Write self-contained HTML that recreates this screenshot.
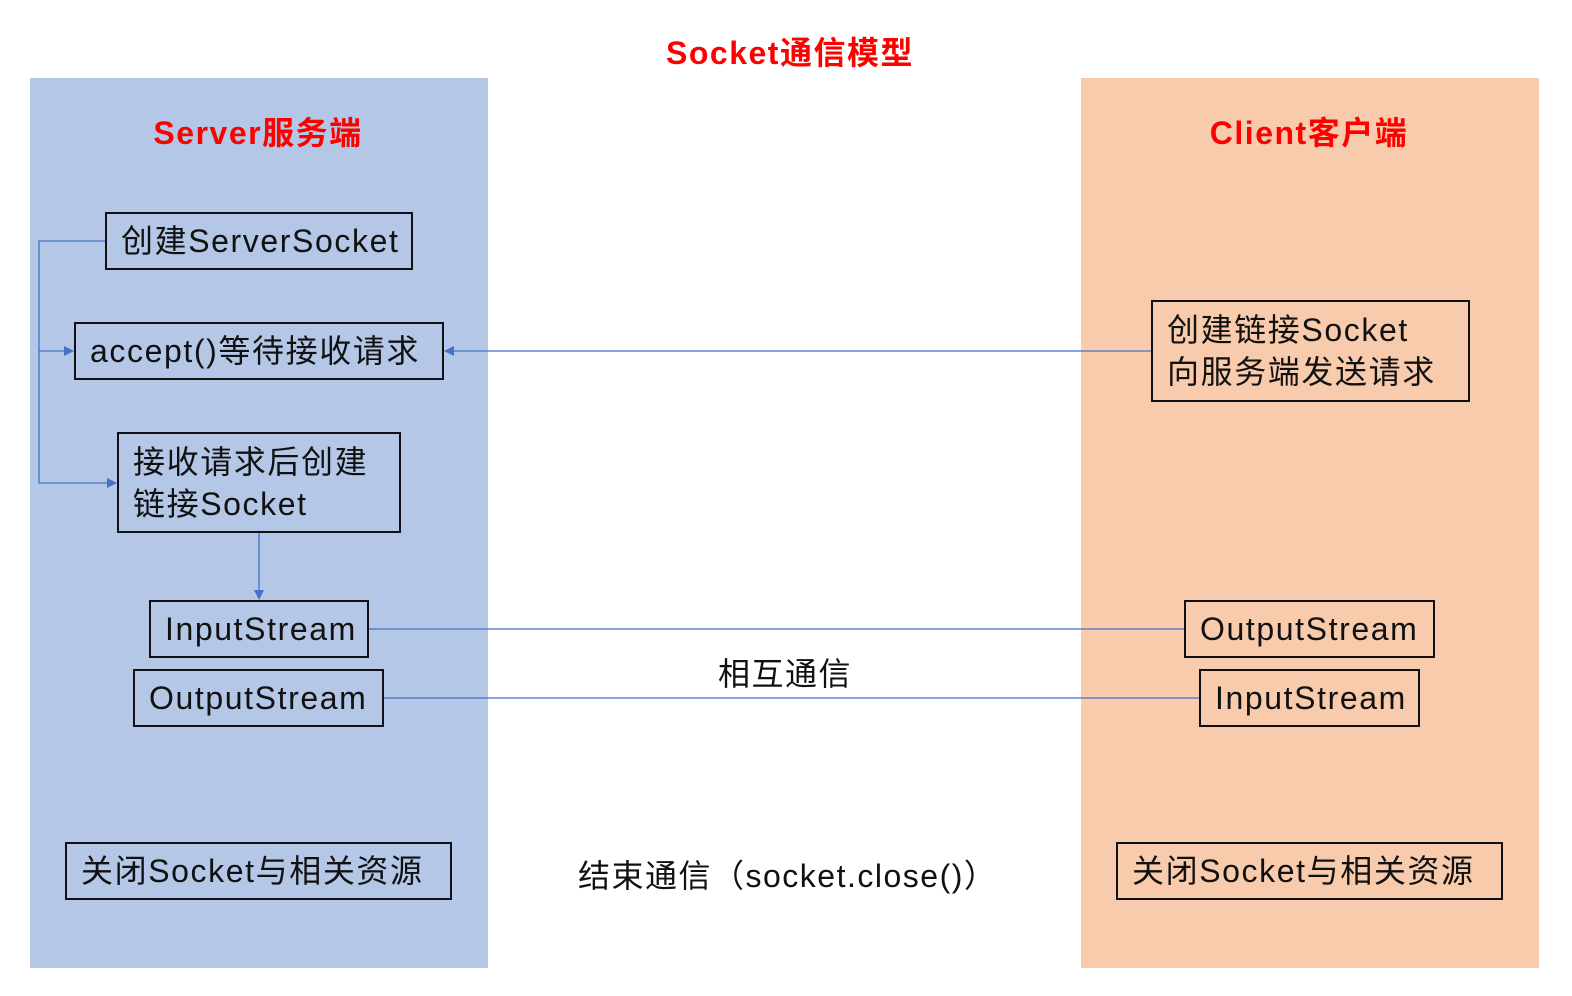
<!DOCTYPE html>
<html><head><meta charset="utf-8"><style>
body{margin:0;width:1572px;height:996px;background:#fff;position:relative;overflow:hidden;font-family:"Liberation Sans","Noto Sans CJK SC",sans-serif;}
.p{position:absolute;top:78px;height:890px;width:458px}
.b{position:absolute;box-sizing:border-box;border:2px solid #111;font-size:32px;color:#111;padding-left:14px;display:flex;align-items:center;white-space:nowrap;line-height:42px;letter-spacing:1.6px}
.t{position:absolute;font-weight:bold;color:#f00;font-size:32px;white-space:nowrap;transform:translateX(-50%);letter-spacing:1.5px}
.x{position:absolute;font-size:32px;color:#111;white-space:nowrap;letter-spacing:1.5px}
</style></head><body>
<div class="p" style="left:30px;background:#b4c7e7"></div>
<div class="p" style="left:1081px;background:#f8cbad"></div>
<div class="t" style="left:790px;top:28px">Socket通信模型</div>
<div class="t" style="left:258px;top:108px">Server服务端</div>
<div class="t" style="left:1309px;top:108px">Client客户端</div>
<svg width="1572" height="996" style="position:absolute;left:0;top:0">
<defs><marker id="a" markerWidth="10" markerHeight="10" refX="9" refY="5" orient="auto" markerUnits="userSpaceOnUse"><path d="M0,0 L10,5 L0,10z" fill="#4472c4"/></marker></defs>
<g stroke="#4472c4" stroke-width="1.3" fill="none">
<polyline points="105,241 39,241 39,483 116,483" marker-end="url(#a)"/>
<line x1="39" y1="351" x2="73" y2="351" marker-end="url(#a)"/>
<line x1="1151" y1="351" x2="445" y2="351" marker-end="url(#a)"/>
<line x1="259" y1="533" x2="259" y2="599" marker-end="url(#a)"/>
<line x1="369" y1="629" x2="1184" y2="629"/>
<line x1="384" y1="698" x2="1199" y2="698"/>
</g></svg>
<div class="b" style="left:105px;top:212px;width:308px;height:58px">创建ServerSocket</div>
<div class="b" style="left:74px;top:322px;width:370px;height:58px">accept()等待接收请求</div>
<div class="b" style="left:117px;top:432px;width:284px;height:101px">接收请求后创建<br>链接Socket</div>
<div class="b" style="left:149px;top:600px;width:220px;height:58px">InputStream</div>
<div class="b" style="left:133px;top:669px;width:251px;height:58px">OutputStream</div>
<div class="b" style="left:65px;top:842px;width:387px;height:58px">关闭Socket与相关资源</div>
<div class="b" style="left:1151px;top:300px;width:319px;height:102px">创建链接Socket<br>向服务端发送请求</div>
<div class="b" style="left:1184px;top:600px;width:251px;height:58px">OutputStream</div>
<div class="b" style="left:1199px;top:669px;width:221px;height:58px">InputStream</div>
<div class="b" style="left:1116px;top:842px;width:387px;height:58px">关闭Socket与相关资源</div>
<div class="x" style="left:718px;top:649px">相互通信</div>
<div class="x" style="left:578px;top:851px">结束通信（socket.close()）</div>
</body></html>
